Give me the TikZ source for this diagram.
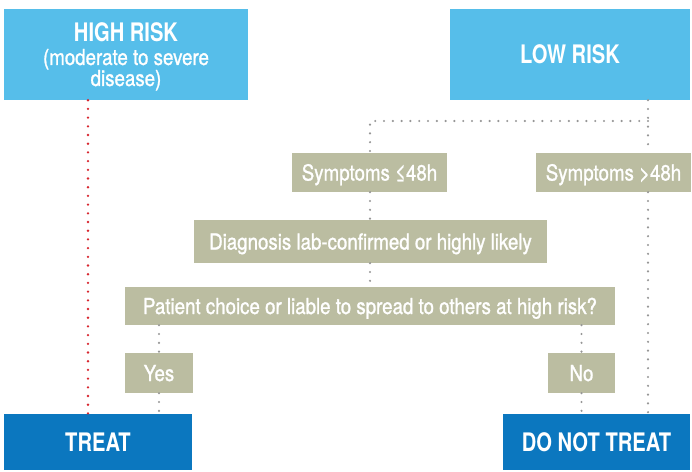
\documentclass[tikz,border=0pt]{standalone}
\usepackage{fontspec}
\setmainfont{TeX Gyre Heros}[FakeStretch=0.85]
\newfontfamily\stepfont{TeX Gyre Heros}[FakeStretch=0.85,FakeBold=1.2]
\newfontfamily\headfont{TeX Gyre Heros}[FakeStretch=0.79]
\definecolor{riskblue}{RGB}{86,190,234}
\definecolor{treatblue}{RGB}{11,119,191}
\definecolor{stepkhaki}{RGB}{187,189,161}
\definecolor{dotgray}{RGB}{150,150,150}
\definecolor{dotred}{RGB}{215,38,47}
\begin{document}
\begin{tikzpicture}[x=1pt,y=-1pt,
  box/.style={rectangle,inner sep=0pt,text=white},
  riskbox/.style={box,fill=riskblue,font=\stepfont\fontsize{22}{21}\selectfont},
  treatbox/.style={box,fill=treatblue,font=\headfont\bfseries\fontsize{25.5}{30}\selectfont,text height=18.5pt,text depth=0pt},
  stepbox/.style={box,fill=stepkhaki,font=\stepfont\fontsize{22}{26}\selectfont,text height=16pt,text depth=0pt},
  graydots/.style={draw=dotgray,line width=2.4pt,line cap=round,dash pattern=on 0pt off 8.8pt},
  reddots/.style={draw=dotred,line width=2.6pt,line cap=round,dash pattern=on 0pt off 8.7pt}]
\useasboundingbox (0,0) rectangle (692,471);

\node[riskbox,minimum width=244pt,minimum height=91pt,align=center] (high) at (126,54.5)
  {{\headfont\bfseries\fontsize{25.5}{21}\selectfont HIGH RISK}\\[2pt]
   (moderate to severe\\ \raisebox{0pt}[\height][0pt]{disease)}};
\node[riskbox,minimum width=240pt,minimum height=91pt,font=\headfont\bfseries\fontsize{25.5}{30}\selectfont,
  text height=18.5pt,text depth=0pt] (low) at (570,54.5) {LOW RISK};

\node[stepbox,minimum width=155pt,minimum height=39pt] (short) at (369.5,172.5) {Symptoms ≤48h};
\node[stepbox,minimum width=155pt,minimum height=39pt] (long) at (613.5,172.5) {Symptoms >48h};
\node[stepbox,minimum width=353pt,minimum height=43pt] (diag) at (370.5,241.5) {Diagnosis lab-confirmed or highly likely};
\node[stepbox,minimum width=490pt,minimum height=38pt] (choice) at (370,306) {Patient choice or liable to spread to others at high risk?};
\node[stepbox,minimum width=68pt,minimum height=40pt] (yes) at (159,373) {Yes};
\node[stepbox,minimum width=67pt,minimum height=40pt] (no) at (581.5,373) {No};

\node[treatbox,minimum width=188pt,minimum height=56pt] (treat) at (98,442) {TREAT};
\node[treatbox,minimum width=187pt,minimum height=56pt] (notreat) at (596.5,442) {DO NOT TREAT};

\coordinate (lt) at (370,121);
\coordinate (rt) at (648,121);

\draw[reddots] ([xshift=-10pt]treat.north |- high.south) -- ([xshift=-10pt]treat.north);

\draw[graydots] (low.south -| rt) -- (long.north -| rt);
\draw[graydots] (rt) -- (lt) -- (short.north -| lt);
\draw[graydots] (long.south -| rt) -- (notreat.north -| rt);
\draw[graydots] (short.south -| lt) -- (diag.north -| lt);
\draw[graydots] (diag.south -| lt) -- (choice.north -| lt);
\draw[graydots] (choice.south -| yes.north) -- (yes.north);
\draw[graydots] (yes.south) -- (treat.north -| yes.south);
\draw[graydots] (choice.south -| no.north) -- (no.north);
\draw[graydots] (no.south) -- (notreat.north -| no.south);

\end{tikzpicture}
\end{document}
